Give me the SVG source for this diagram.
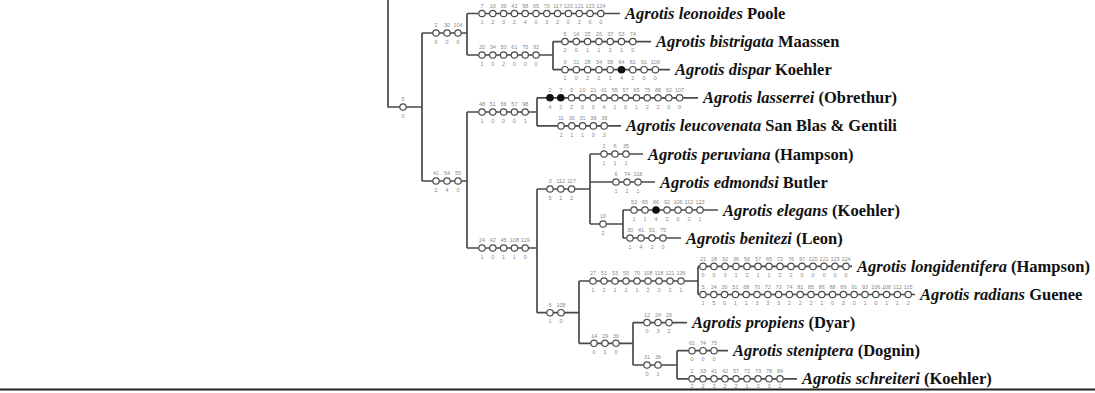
<svg xmlns="http://www.w3.org/2000/svg" width="1095" height="393" viewBox="0 0 1095 393">
<style>
.t{fill:none;stroke:#4a4a4a;stroke-width:1.7}
.c{fill:#fff;stroke:#4a4a4a;stroke-width:1.2}
.f{fill:#111;stroke:#111;stroke-width:1.2}
.n{font-family:"Liberation Sans",Arial,sans-serif;font-size:5.5px;fill:#8a8a8a;text-anchor:middle}
.sp{font-family:"Liberation Serif","Times New Roman",serif;font-size:16.5px;font-weight:bold;fill:#111}
.i{font-style:italic}
</style>
<rect width="1095" height="393" fill="#fff"/>
<g id="connectors">
<path class="t" d="M388,0V107H422M422,33V181M422,33H467M467,13.5V55M467,13.5H620M467,55H553M553,41.6V69.7M553,41.6H651M553,69.7H670M422,181H467M467,112V248M467,112H537M537,97.8V125.9M537,97.8H698M537,125.9H621M467,248H537M537,189V312.7M537,189H590M590,154V224M590,154H643M590,182H655M590,224H623M623,210V238M623,210H718M623,238H681M537,312.7H579M579,281V343.3M579,281H698M698,266.4V294.5M698,266.4H852M698,294.5H915M579,343.3H633M633,322.6V365M633,322.6H687M633,365H677M677,350.7V378.8M677,350.7H728M677,378.8H797"/>
<line x1="0" y1="389.5" x2="1095" y2="389.5" stroke="#222" stroke-width="2"/>
</g>
<g id="internal-nodes">
<g id="n-root"><circle class="c" cx="403" cy="107" r="3.2"/><text class="n" x="403" y="101.4">5</text><text class="n" x="403" y="117.7">0</text></g>
<g id="n-A"><circle class="c" cx="436" cy="33" r="3.2"/><circle class="c" cx="447" cy="33" r="3.2"/><circle class="c" cx="458" cy="33" r="3.2"/>
<text class="n" x="436" y="27.4">2</text><text class="n" x="447" y="27.4">30</text><text class="n" x="458" y="27.4">104</text>
<text class="n" x="436" y="43.7">0</text><text class="n" x="447" y="43.7">0</text><text class="n" x="458" y="43.7">0</text></g>
<g id="n-A2"><circle class="c" cx="482" cy="55" r="3.2"/><circle class="c" cx="492.8" cy="55" r="3.2"/><circle class="c" cx="503.6" cy="55" r="3.2"/><circle class="c" cx="514.4" cy="55" r="3.2"/><circle class="c" cx="525.2" cy="55" r="3.2"/><circle class="c" cx="536" cy="55" r="3.2"/>
<text class="n" x="482" y="49.4">20</text><text class="n" x="492.8" y="49.4">34</text><text class="n" x="503.6" y="49.4">50</text><text class="n" x="514.4" y="49.4">61</text><text class="n" x="525.2" y="49.4">75</text><text class="n" x="536" y="49.4">92</text>
<text class="n" x="482" y="65.7">1</text><text class="n" x="492.8" y="65.7">0</text><text class="n" x="503.6" y="65.7">2</text><text class="n" x="514.4" y="65.7">0</text><text class="n" x="525.2" y="65.7">0</text><text class="n" x="536" y="65.7">0</text></g>
<g id="n-B"><circle class="c" cx="436" cy="181" r="3.2"/><circle class="c" cx="447" cy="181" r="3.2"/><circle class="c" cx="458" cy="181" r="3.2"/>
<text class="n" x="436" y="175.4">41</text><text class="n" x="447" y="175.4">54</text><text class="n" x="458" y="175.4">55</text>
<text class="n" x="436" y="191.7">2</text><text class="n" x="447" y="191.7">4</text><text class="n" x="458" y="191.7">0</text></g>
<g id="n-B1"><circle class="c" cx="482" cy="112" r="3.2"/><circle class="c" cx="492.8" cy="112" r="3.2"/><circle class="c" cx="503.6" cy="112" r="3.2"/><circle class="c" cx="514.4" cy="112" r="3.2"/><circle class="c" cx="525.2" cy="112" r="3.2"/>
<text class="n" x="482" y="106.4">48</text><text class="n" x="492.8" y="106.4">51</text><text class="n" x="503.6" y="106.4">56</text><text class="n" x="514.4" y="106.4">57</text><text class="n" x="525.2" y="106.4">98</text>
<text class="n" x="482" y="122.7">1</text><text class="n" x="492.8" y="122.7">0</text><text class="n" x="503.6" y="122.7">0</text><text class="n" x="514.4" y="122.7">0</text><text class="n" x="525.2" y="122.7">1</text></g>
<g id="n-B2"><circle class="c" cx="482" cy="248" r="3.2"/><circle class="c" cx="492.8" cy="248" r="3.2"/><circle class="c" cx="503.6" cy="248" r="3.2"/><circle class="c" cx="514.4" cy="248" r="3.2"/><circle class="c" cx="525.2" cy="248" r="3.2"/>
<text class="n" x="482" y="242.4">24</text><text class="n" x="492.8" y="242.4">42</text><text class="n" x="503.6" y="242.4">45</text><text class="n" x="514.4" y="242.4">108</text><text class="n" x="525.2" y="242.4">119</text>
<text class="n" x="482" y="258.7">1</text><text class="n" x="492.8" y="258.7">0</text><text class="n" x="503.6" y="258.7">1</text><text class="n" x="514.4" y="258.7">1</text><text class="n" x="525.2" y="258.7">0</text></g>
<g id="n-C"><circle class="c" cx="550" cy="189" r="3.2"/><circle class="c" cx="560.8" cy="189" r="3.2"/><circle class="c" cx="571.6" cy="189" r="3.2"/>
<text class="n" x="550" y="183.4">3</text><text class="n" x="560.8" y="183.4">112</text><text class="n" x="571.6" y="183.4">117</text>
<text class="n" x="550" y="199.7">5</text><text class="n" x="560.8" y="199.7">1</text><text class="n" x="571.6" y="199.7">2</text></g>
<g id="n-C3"><circle class="c" cx="603" cy="224" r="3.2"/><text class="n" x="603" y="218.4">10</text><text class="n" x="603" y="234.7">2</text></g>
<g id="n-D"><circle class="c" cx="550" cy="312.7" r="3.2"/><circle class="c" cx="561" cy="312.7" r="3.2"/>
<text class="n" x="550" y="307.1">6</text><text class="n" x="561" y="307.1">108</text><text class="n" x="550" y="323.4">1</text><text class="n" x="561" y="323.4">0</text></g>
<g id="n-D1"><circle class="c" cx="593" cy="281" r="3.2"/><circle class="c" cx="604" cy="281" r="3.2"/><circle class="c" cx="615" cy="281" r="3.2"/><circle class="c" cx="626" cy="281" r="3.2"/><circle class="c" cx="637" cy="281" r="3.2"/><circle class="c" cx="648" cy="281" r="3.2"/><circle class="c" cx="659" cy="281" r="3.2"/><circle class="c" cx="670" cy="281" r="3.2"/><circle class="c" cx="681" cy="281" r="3.2"/>
<text class="n" x="593" y="275.4">27</text><text class="n" x="604" y="275.4">51</text><text class="n" x="615" y="275.4">53</text><text class="n" x="626" y="275.4">55</text><text class="n" x="637" y="275.4">70</text><text class="n" x="648" y="275.4">108</text><text class="n" x="659" y="275.4">118</text><text class="n" x="670" y="275.4">121</text><text class="n" x="681" y="275.4">126</text>
<text class="n" x="593" y="291.7">1</text><text class="n" x="604" y="291.7">2</text><text class="n" x="615" y="291.7">1</text><text class="n" x="626" y="291.7">1</text><text class="n" x="637" y="291.7">1</text><text class="n" x="648" y="291.7">2</text><text class="n" x="659" y="291.7">2</text><text class="n" x="670" y="291.7">2</text><text class="n" x="681" y="291.7">1</text></g>
<g id="n-D2"><circle class="c" cx="594" cy="343.3" r="3.2"/><circle class="c" cx="605" cy="343.3" r="3.2"/><circle class="c" cx="616" cy="343.3" r="3.2"/>
<text class="n" x="594" y="337.7">14</text><text class="n" x="605" y="337.7">29</text><text class="n" x="616" y="337.7">30</text>
<text class="n" x="594" y="354">0</text><text class="n" x="605" y="354">1</text><text class="n" x="616" y="354">0</text></g>
<g id="n-D22"><circle class="c" cx="647" cy="365" r="3.2"/><circle class="c" cx="658" cy="365" r="3.2"/>
<text class="n" x="647" y="359.4">31</text><text class="n" x="658" y="359.4">36</text><text class="n" x="647" y="375.7">0</text><text class="n" x="658" y="375.7">1</text></g>
</g>
<g id="leonoides"><circle class="c" cx="482" cy="13.5" r="3.2"/><circle class="c" cx="492.8" cy="13.5" r="3.2"/><circle class="c" cx="503.6" cy="13.5" r="3.2"/><circle class="c" cx="514.4" cy="13.5" r="3.2"/><circle class="c" cx="525.2" cy="13.5" r="3.2"/><circle class="c" cx="536" cy="13.5" r="3.2"/><circle class="c" cx="546.8" cy="13.5" r="3.2"/><circle class="c" cx="557.6" cy="13.5" r="3.2"/><circle class="c" cx="568.4" cy="13.5" r="3.2"/><circle class="c" cx="579.2" cy="13.5" r="3.2"/><circle class="c" cx="590" cy="13.5" r="3.2"/><circle class="c" cx="600.8" cy="13.5" r="3.2"/>
<text class="n" x="482" y="7.9">7</text><text class="n" x="492.8" y="7.9">10</text><text class="n" x="503.6" y="7.9">39</text><text class="n" x="514.4" y="7.9">42</text><text class="n" x="525.2" y="7.9">58</text><text class="n" x="536" y="7.9">65</text><text class="n" x="546.8" y="7.9">70</text><text class="n" x="557.6" y="7.9">117</text><text class="n" x="568.4" y="7.9">120</text><text class="n" x="579.2" y="7.9">121</text><text class="n" x="590" y="7.9">123</text><text class="n" x="600.8" y="7.9">124</text>
<text class="n" x="482" y="24.2">1</text><text class="n" x="492.8" y="24.2">2</text><text class="n" x="503.6" y="24.2">3</text><text class="n" x="514.4" y="24.2">2</text><text class="n" x="525.2" y="24.2">4</text><text class="n" x="536" y="24.2">0</text><text class="n" x="546.8" y="24.2">3</text><text class="n" x="557.6" y="24.2">2</text><text class="n" x="568.4" y="24.2">0</text><text class="n" x="579.2" y="24.2">2</text><text class="n" x="590" y="24.2">0</text><text class="n" x="600.8" y="24.2">0</text>
<text class="sp" x="625" y="19"><tspan class="i">Agrotis leonoides</tspan> Poole</text></g>
<g id="bistrigata"><circle class="c" cx="565" cy="41.6" r="3.2"/><circle class="c" cx="576.3" cy="41.6" r="3.2"/><circle class="c" cx="587.6" cy="41.6" r="3.2"/><circle class="c" cx="598.9" cy="41.6" r="3.2"/><circle class="c" cx="610.2" cy="41.6" r="3.2"/><circle class="c" cx="621.5" cy="41.6" r="3.2"/><circle class="c" cx="632.8" cy="41.6" r="3.2"/>
<text class="n" x="565" y="36">5</text><text class="n" x="576.3" y="36">14</text><text class="n" x="587.6" y="36">25</text><text class="n" x="598.9" y="36">26</text><text class="n" x="610.2" y="36">37</text><text class="n" x="621.5" y="36">53</text><text class="n" x="632.8" y="36">74</text>
<text class="n" x="565" y="52.3">2</text><text class="n" x="576.3" y="52.3">0</text><text class="n" x="587.6" y="52.3">1</text><text class="n" x="598.9" y="52.3">1</text><text class="n" x="610.2" y="52.3">2</text><text class="n" x="621.5" y="52.3">1</text><text class="n" x="632.8" y="52.3">0</text>
<text class="sp" x="656" y="47.1"><tspan class="i">Agrotis bistrigata</tspan> Maassen</text></g>
<g id="dispar"><circle class="c" cx="565" cy="69.7" r="3.2"/><circle class="c" cx="576.3" cy="69.7" r="3.2"/><circle class="c" cx="587.6" cy="69.7" r="3.2"/><circle class="c" cx="598.9" cy="69.7" r="3.2"/><circle class="c" cx="610.2" cy="69.7" r="3.2"/><circle class="f" cx="621.5" cy="69.7" r="3.2"/><circle class="c" cx="632.8" cy="69.7" r="3.2"/><circle class="c" cx="644.1" cy="69.7" r="3.2"/><circle class="c" cx="655.4" cy="69.7" r="3.2"/>
<text class="n" x="565" y="64.1">9</text><text class="n" x="576.3" y="64.1">21</text><text class="n" x="587.6" y="64.1">28</text><text class="n" x="598.9" y="64.1">34</text><text class="n" x="610.2" y="64.1">58</text><text class="n" x="621.5" y="64.1">64</text><text class="n" x="632.8" y="64.1">81</text><text class="n" x="644.1" y="64.1">91</text><text class="n" x="655.4" y="64.1">106</text>
<text class="n" x="565" y="80.4">1</text><text class="n" x="576.3" y="80.4">0</text><text class="n" x="587.6" y="80.4">2</text><text class="n" x="598.9" y="80.4">2</text><text class="n" x="610.2" y="80.4">1</text><text class="n" x="621.5" y="80.4">4</text><text class="n" x="632.8" y="80.4">2</text><text class="n" x="644.1" y="80.4">0</text><text class="n" x="655.4" y="80.4">0</text>
<text class="sp" x="675" y="75.2"><tspan class="i">Agrotis dispar</tspan> Koehler</text></g>
<g id="lasserrei"><circle class="f" cx="550" cy="97.8" r="3.2"/><circle class="f" cx="560.8" cy="97.8" r="3.2"/><circle class="c" cx="571.6" cy="97.8" r="3.2"/><circle class="c" cx="582.4" cy="97.8" r="3.2"/><circle class="c" cx="593.2" cy="97.8" r="3.2"/><circle class="c" cx="604" cy="97.8" r="3.2"/><circle class="c" cx="614.8" cy="97.8" r="3.2"/><circle class="c" cx="625.6" cy="97.8" r="3.2"/><circle class="c" cx="636.4" cy="97.8" r="3.2"/><circle class="c" cx="647.2" cy="97.8" r="3.2"/><circle class="c" cx="658" cy="97.8" r="3.2"/><circle class="c" cx="668.8" cy="97.8" r="3.2"/><circle class="c" cx="679.6" cy="97.8" r="3.2"/>
<text class="n" x="550" y="92.2">2</text><text class="n" x="560.8" y="92.2">7</text><text class="n" x="571.6" y="92.2">9</text><text class="n" x="582.4" y="92.2">10</text><text class="n" x="593.2" y="92.2">21</text><text class="n" x="604" y="92.2">41</text><text class="n" x="614.8" y="92.2">55</text><text class="n" x="625.6" y="92.2">57</text><text class="n" x="636.4" y="92.2">65</text><text class="n" x="647.2" y="92.2">75</text><text class="n" x="658" y="92.2">88</text><text class="n" x="668.8" y="92.2">92</text><text class="n" x="679.6" y="92.2">107</text>
<text class="n" x="550" y="108.5">4</text><text class="n" x="560.8" y="108.5">2</text><text class="n" x="571.6" y="108.5">2</text><text class="n" x="582.4" y="108.5">0</text><text class="n" x="593.2" y="108.5">0</text><text class="n" x="604" y="108.5">4</text><text class="n" x="614.8" y="108.5">1</text><text class="n" x="625.6" y="108.5">0</text><text class="n" x="636.4" y="108.5">1</text><text class="n" x="647.2" y="108.5">2</text><text class="n" x="658" y="108.5">2</text><text class="n" x="668.8" y="108.5">0</text><text class="n" x="679.6" y="108.5">0</text>
<text class="sp" x="703" y="103.3"><tspan class="i">Agrotis lasserrei</tspan> (Obrethur)</text></g>
<g id="leucovenata"><circle class="c" cx="561" cy="125.9" r="3.2"/><circle class="c" cx="571.8" cy="125.9" r="3.2"/><circle class="c" cx="582.6" cy="125.9" r="3.2"/><circle class="c" cx="593.4" cy="125.9" r="3.2"/><circle class="c" cx="604.2" cy="125.9" r="3.2"/>
<text class="n" x="561" y="120.3">11</text><text class="n" x="571.8" y="120.3">30</text><text class="n" x="582.6" y="120.3">31</text><text class="n" x="593.4" y="120.3">38</text><text class="n" x="604.2" y="120.3">39</text>
<text class="n" x="561" y="136.6">2</text><text class="n" x="571.8" y="136.6">1</text><text class="n" x="582.6" y="136.6">1</text><text class="n" x="593.4" y="136.6">0</text><text class="n" x="604.2" y="136.6">3</text>
<text class="sp" x="626" y="131.4"><tspan class="i">Agrotis leucovenata</tspan> San Blas &amp; Gentili</text></g>
<g id="peruviana"><circle class="c" cx="604" cy="154" r="3.2"/><circle class="c" cx="615" cy="154" r="3.2"/><circle class="c" cx="626" cy="154" r="3.2"/>
<text class="n" x="604" y="148.4">2</text><text class="n" x="615" y="148.4">6</text><text class="n" x="626" y="148.4">35</text>
<text class="n" x="604" y="164.7">1</text><text class="n" x="615" y="164.7">1</text><text class="n" x="626" y="164.7">1</text>
<text class="sp" x="648" y="159.5"><tspan class="i">Agrotis peruviana</tspan> (Hampson)</text></g>
<g id="edmondsi"><circle class="c" cx="616" cy="182" r="3.2"/><circle class="c" cx="627" cy="182" r="3.2"/><circle class="c" cx="638" cy="182" r="3.2"/>
<text class="n" x="616" y="176.4">6</text><text class="n" x="627" y="176.4">74</text><text class="n" x="638" y="176.4">118</text>
<text class="n" x="616" y="192.7">1</text><text class="n" x="627" y="192.7">2</text><text class="n" x="638" y="192.7">1</text>
<text class="sp" x="660" y="187.5"><tspan class="i">Agrotis edmondsi</tspan> Butler</text></g>
<g id="elegans"><circle class="c" cx="634" cy="210" r="3.2"/><circle class="c" cx="645" cy="210" r="3.2"/><circle class="f" cx="656" cy="210" r="3.2"/><circle class="c" cx="667" cy="210" r="3.2"/><circle class="c" cx="678" cy="210" r="3.2"/><circle class="c" cx="689" cy="210" r="3.2"/><circle class="c" cx="700" cy="210" r="3.2"/>
<text class="n" x="634" y="204.4">53</text><text class="n" x="645" y="204.4">65</text><text class="n" x="656" y="204.4">86</text><text class="n" x="667" y="204.4">92</text><text class="n" x="678" y="204.4">106</text><text class="n" x="689" y="204.4">112</text><text class="n" x="700" y="204.4">123</text>
<text class="n" x="634" y="220.7">1</text><text class="n" x="645" y="220.7">1</text><text class="n" x="656" y="220.7">4</text><text class="n" x="667" y="220.7">2</text><text class="n" x="678" y="220.7">0</text><text class="n" x="689" y="220.7">2</text><text class="n" x="700" y="220.7">1</text>
<text class="sp" x="723" y="215.5"><tspan class="i">Agrotis elegans</tspan> (Koehler)</text></g>
<g id="benitezi"><circle class="c" cx="630" cy="238" r="3.2"/><circle class="c" cx="641" cy="238" r="3.2"/><circle class="c" cx="652" cy="238" r="3.2"/><circle class="c" cx="663" cy="238" r="3.2"/>
<text class="n" x="630" y="232.4">30</text><text class="n" x="641" y="232.4">41</text><text class="n" x="652" y="232.4">51</text><text class="n" x="663" y="232.4">75</text>
<text class="n" x="630" y="248.7">1</text><text class="n" x="641" y="248.7">4</text><text class="n" x="652" y="248.7">2</text><text class="n" x="663" y="248.7">0</text>
<text class="sp" x="686" y="243.5"><tspan class="i">Agrotis benitezi</tspan> (Leon)</text></g>
<g id="longidentifera"><circle class="c" cx="703" cy="266.4" r="3.2"/><circle class="c" cx="714" cy="266.4" r="3.2"/><circle class="c" cx="725" cy="266.4" r="3.2"/><circle class="c" cx="736" cy="266.4" r="3.2"/><circle class="c" cx="747" cy="266.4" r="3.2"/><circle class="c" cx="758" cy="266.4" r="3.2"/><circle class="c" cx="769" cy="266.4" r="3.2"/><circle class="c" cx="780" cy="266.4" r="3.2"/><circle class="c" cx="791" cy="266.4" r="3.2"/><circle class="c" cx="802" cy="266.4" r="3.2"/><circle class="c" cx="813" cy="266.4" r="3.2"/><circle class="c" cx="824" cy="266.4" r="3.2"/><circle class="c" cx="835" cy="266.4" r="3.2"/><circle class="c" cx="846" cy="266.4" r="3.2"/>
<text class="n" x="703" y="260.8">21</text><text class="n" x="714" y="260.8">28</text><text class="n" x="725" y="260.8">32</text><text class="n" x="736" y="260.8">36</text><text class="n" x="747" y="260.8">56</text><text class="n" x="758" y="260.8">57</text><text class="n" x="769" y="260.8">65</text><text class="n" x="780" y="260.8">72</text><text class="n" x="791" y="260.8">76</text><text class="n" x="802" y="260.8">97</text><text class="n" x="813" y="260.8">120</text><text class="n" x="824" y="260.8">121</text><text class="n" x="835" y="260.8">123</text><text class="n" x="846" y="260.8">124</text>
<text class="n" x="703" y="277.1">0</text><text class="n" x="714" y="277.1">0</text><text class="n" x="725" y="277.1">3</text><text class="n" x="736" y="277.1">1</text><text class="n" x="747" y="277.1">2</text><text class="n" x="758" y="277.1">1</text><text class="n" x="769" y="277.1">1</text><text class="n" x="780" y="277.1">2</text><text class="n" x="791" y="277.1">2</text><text class="n" x="802" y="277.1">0</text><text class="n" x="813" y="277.1">0</text><text class="n" x="824" y="277.1">0</text><text class="n" x="835" y="277.1">0</text><text class="n" x="846" y="277.1">0</text>
<text class="sp" x="857" y="271.9"><tspan class="i">Agrotis longidentifera</tspan> (Hampson)</text></g>
<g id="radians"><circle class="c" cx="703" cy="294.5" r="3.2"/><circle class="c" cx="713.8" cy="294.5" r="3.2"/><circle class="c" cx="724.6" cy="294.5" r="3.2"/><circle class="c" cx="735.4" cy="294.5" r="3.2"/><circle class="c" cx="746.2" cy="294.5" r="3.2"/><circle class="c" cx="757" cy="294.5" r="3.2"/><circle class="c" cx="767.8" cy="294.5" r="3.2"/><circle class="c" cx="778.6" cy="294.5" r="3.2"/><circle class="c" cx="789.4" cy="294.5" r="3.2"/><circle class="c" cx="800.2" cy="294.5" r="3.2"/><circle class="c" cx="811" cy="294.5" r="3.2"/><circle class="c" cx="821.8" cy="294.5" r="3.2"/><circle class="c" cx="832.6" cy="294.5" r="3.2"/><circle class="c" cx="843.4" cy="294.5" r="3.2"/><circle class="c" cx="854.2" cy="294.5" r="3.2"/><circle class="c" cx="865" cy="294.5" r="3.2"/><circle class="c" cx="875.8" cy="294.5" r="3.2"/><circle class="c" cx="886.6" cy="294.5" r="3.2"/><circle class="c" cx="897.4" cy="294.5" r="3.2"/><circle class="c" cx="908.2" cy="294.5" r="3.2"/>
<text class="n" x="703" y="288.9">5</text><text class="n" x="713.8" y="288.9">24</text><text class="n" x="724.6" y="288.9">30</text><text class="n" x="735.4" y="288.9">51</text><text class="n" x="746.2" y="288.9">68</text><text class="n" x="757" y="288.9">70</text><text class="n" x="767.8" y="288.9">72</text><text class="n" x="778.6" y="288.9">73</text><text class="n" x="789.4" y="288.9">74</text><text class="n" x="800.2" y="288.9">81</text><text class="n" x="811" y="288.9">85</text><text class="n" x="821.8" y="288.9">86</text><text class="n" x="832.6" y="288.9">88</text><text class="n" x="843.4" y="288.9">89</text><text class="n" x="854.2" y="288.9">91</text><text class="n" x="865" y="288.9">93</text><text class="n" x="875.8" y="288.9">106</text><text class="n" x="886.6" y="288.9">108</text><text class="n" x="897.4" y="288.9">112</text><text class="n" x="908.2" y="288.9">115</text>
<text class="n" x="703" y="305.2">1</text><text class="n" x="713.8" y="305.2">5</text><text class="n" x="724.6" y="305.2">0</text><text class="n" x="735.4" y="305.2">1</text><text class="n" x="746.2" y="305.2">1</text><text class="n" x="757" y="305.2">3</text><text class="n" x="767.8" y="305.2">3</text><text class="n" x="778.6" y="305.2">3</text><text class="n" x="789.4" y="305.2">2</text><text class="n" x="800.2" y="305.2">2</text><text class="n" x="811" y="305.2">2</text><text class="n" x="821.8" y="305.2">1</text><text class="n" x="832.6" y="305.2">0</text><text class="n" x="843.4" y="305.2">3</text><text class="n" x="854.2" y="305.2">0</text><text class="n" x="865" y="305.2">1</text><text class="n" x="875.8" y="305.2">0</text><text class="n" x="886.6" y="305.2">1</text><text class="n" x="897.4" y="305.2">1</text><text class="n" x="908.2" y="305.2">2</text>
<text class="sp" x="920" y="300"><tspan class="i">Agrotis radians</tspan> Guenee</text></g>
<g id="propiens"><circle class="c" cx="647" cy="322.6" r="3.2"/><circle class="c" cx="658" cy="322.6" r="3.2"/><circle class="c" cx="669" cy="322.6" r="3.2"/>
<text class="n" x="647" y="317">12</text><text class="n" x="658" y="317">24</text><text class="n" x="669" y="317">26</text>
<text class="n" x="647" y="333.3">0</text><text class="n" x="658" y="333.3">3</text><text class="n" x="669" y="333.3">2</text>
<text class="sp" x="692" y="328.1"><tspan class="i">Agrotis propiens</tspan> (Dyar)</text></g>
<g id="steniptera"><circle class="c" cx="692" cy="350.7" r="3.2"/><circle class="c" cx="703" cy="350.7" r="3.2"/><circle class="c" cx="714" cy="350.7" r="3.2"/>
<text class="n" x="692" y="345.1">61</text><text class="n" x="703" y="345.1">74</text><text class="n" x="714" y="345.1">75</text>
<text class="n" x="692" y="361.4">0</text><text class="n" x="703" y="361.4">0</text><text class="n" x="714" y="361.4">0</text>
<text class="sp" x="733" y="356.2"><tspan class="i">Agrotis steniptera</tspan> (Dognin)</text></g>
<g id="schreiteri"><circle class="c" cx="692" cy="378.8" r="3.2"/><circle class="c" cx="703" cy="378.8" r="3.2"/><circle class="c" cx="714" cy="378.8" r="3.2"/><circle class="c" cx="725" cy="378.8" r="3.2"/><circle class="c" cx="736" cy="378.8" r="3.2"/><circle class="c" cx="747" cy="378.8" r="3.2"/><circle class="c" cx="758" cy="378.8" r="3.2"/><circle class="c" cx="769" cy="378.8" r="3.2"/><circle class="c" cx="780" cy="378.8" r="3.2"/>
<text class="n" x="692" y="373.2">2</text><text class="n" x="703" y="373.2">33</text><text class="n" x="714" y="373.2">41</text><text class="n" x="725" y="373.2">42</text><text class="n" x="736" y="373.2">57</text><text class="n" x="747" y="373.2">72</text><text class="n" x="758" y="373.2">73</text><text class="n" x="769" y="373.2">78</text><text class="n" x="780" y="373.2">84</text>
<text class="n" x="692" y="388">2</text><text class="n" x="703" y="388">2</text><text class="n" x="714" y="388">3</text><text class="n" x="725" y="388">2</text><text class="n" x="736" y="388">2</text><text class="n" x="747" y="388">1</text><text class="n" x="758" y="388">3</text><text class="n" x="769" y="388">3</text><text class="n" x="780" y="388">1</text>
<text class="sp" x="802" y="384.3"><tspan class="i">Agrotis schreiteri</tspan> (Koehler)</text></g>
</svg>
